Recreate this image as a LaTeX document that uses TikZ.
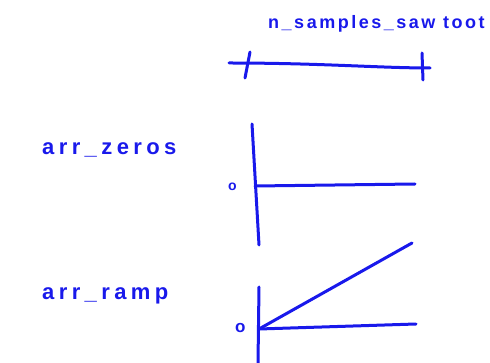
\documentclass[tikz,border=0pt]{standalone}
\usepackage{fontspec}
\newfontfamily\handbig[LetterSpace=20,BoldFont={Liberation Sans Bold}]{Liberation Sans}
\newfontfamily\handsmall[LetterSpace=14,BoldFont={Liberation Sans Bold}]{Liberation Sans}
\definecolor{ink}{RGB}{25,25,235}
\begin{document}
\begin{tikzpicture}[x=1pt,y=-1pt,
  pen/.style={draw=ink,line width=3pt,line cap=round,line join=round},
  lbl/.style={text=ink,inner sep=0pt,anchor=west}]
\useasboundingbox (0,0) rectangle (490,363);
\clip (0,0) rectangle (490,363);
% top span
\node[lbl,font=\handsmall\bfseries\fontsize{18}{20}\selectfont] (tl) at (268,24) {n\_samples\_saw toot};
\coordinate (sl) at (229,63);
\coordinate (sr) at (430,68);
\draw[pen] (sl) .. controls (320,63) and (380,68) .. (sr);
\coordinate (t1a) at (250,52); \coordinate (t1b) at (245,78);
\draw[pen] (t1a) -- (t1b);
\coordinate (t2a) at (422,53); \coordinate (t2b) at (423,80);
\draw[pen] (t2a) -- (t2b);
% arr_zeros
\node[lbl,font=\handbig\bfseries\fontsize{22}{24}\selectfont] (zl) at (42,150) {arr\_zeros};
\coordinate (za) at (252,124); \coordinate (zb) at (259,245);
\draw[pen] (za) -- (zb);
\node[lbl,font=\handsmall\bfseries\fontsize{14}{16}\selectfont] (z0) at (228,187) {o};
\coordinate (zo) at (255,186); \coordinate (ze) at (415,184);
\draw[pen] (zo) -- (ze);
% arr_ramp
\node[lbl,font=\handbig\bfseries\fontsize{22}{24}\selectfont] (rl) at (42,296) {arr\_ramp};
\coordinate (ra) at (259,287); \coordinate (rb) at (258,363);
\draw[pen] (ra) -- (rb);
\node[lbl,font=\handsmall\bfseries\fontsize{17}{18}\selectfont] (r0) at (235,328) {o};
\coordinate (ro) at (259,329);
\coordinate (rt) at (412,243);
\coordinate (rh) at (416,324);
\draw[pen] (ro) -- (rt);
\draw[pen] (ro) -- (rh);
\end{tikzpicture}
\end{document}
